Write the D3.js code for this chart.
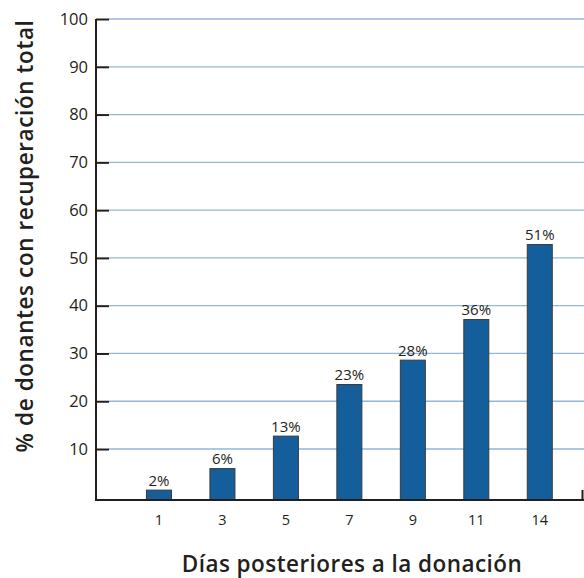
<!DOCTYPE html>
<html><head><meta charset="utf-8">
<script src="https://cdn.jsdelivr.net/npm/d3@7"></script>
<style>
html,body{margin:0;padding:0;background:#fff;}
svg{display:block;}
text{font-family:"Open Sans",sans-serif;fill:#231f20;}
</style></head>
<body>
<svg id="c" width="584" height="578"></svg>
<script>
const days = ["1","3","5","7","9","11","14"];
const barValues = [1.4, 5.9, 12.7, 23.5, 28.6, 37.1, 52.8];
const valueLabels = ["2%","6%","13%","23%","28%","36%","51%"];
const yTicks = [10,20,30,40,50,60,70,80,90,100];

const svg = d3.select("#c");
const axisX0 = 96, axisRight = 584, baseY = 500;

const y = d3.scaleLinear().domain([0,100]).range([496.8, 19]);
const x = d3.scaleBand().domain(days).range([axisX0, axisRight])
  .paddingInner(0.606).paddingOuter(0.6475).align(0.614);

// gridlines
svg.append("g").selectAll("line").data(yTicks).join("line")
  .attr("x1", 109).attr("x2", 584)
  .attr("y1", d => y(d)).attr("y2", d => y(d))
  .attr("stroke", "#92b6dd").attr("stroke-width", 1.3);

// bars
svg.append("g").selectAll("rect").data(barValues).join("rect")
  .attr("x", (d,i) => x(days[i]))
  .attr("width", x.bandwidth())
  .attr("y", d => y(d))
  .attr("height", d => baseY - y(d))
  .attr("fill", "#135e9b")
  .attr("stroke", "#3a3a3a").attr("stroke-width", 1);

// value labels
svg.append("g").selectAll("text").data(barValues).join("text")
  .attr("x", (d,i) => x(days[i]) + x.bandwidth()/2)
  .attr("y", d => y(d) - 4.5)
  .attr("text-anchor", "middle")
  .attr("font-size", 15)
  .text((d,i) => valueLabels[i]);

// y axis
const yAxis = d3.axisLeft(y).tickValues(yTicks).tickSize(13).tickPadding(8);
const gy = svg.append("g").attr("transform", `translate(${axisX0 + 13},0)`).call(yAxis);
gy.select(".domain").remove();
gy.selectAll(".tick line").attr("stroke", "#231f20").attr("stroke-width", 2);
gy.selectAll(".tick text").attr("font-size", 16.5).attr("font-family", "Open Sans, sans-serif").attr("fill", "#231f20");
svg.append("line").attr("x1", axisX0).attr("x2", axisX0).attr("y1", y(100)).attr("y2", baseY + 1)
  .attr("stroke", "#231f20").attr("stroke-width", 2);

// x axis
const xAxis = d3.axisBottom(x).tickSize(0).tickPadding(15);
const gx = svg.append("g").attr("transform", `translate(0,${baseY})`).call(xAxis);
gx.select(".domain").remove();
gx.selectAll(".tick text").attr("font-size", 14.5).attr("font-family", "Open Sans, sans-serif").attr("fill", "#231f20");
svg.append("line").attr("x1", axisX0 - 1).attr("x2", axisRight).attr("y1", baseY).attr("y2", baseY)
  .attr("stroke", "#231f20").attr("stroke-width", 2);
svg.append("line").attr("x1", 582.5).attr("x2", 582.5).attr("y1", baseY).attr("y2", baseY - 10)
  .attr("stroke", "#231f20").attr("stroke-width", 2);

// axis titles
svg.append("text").attr("x", 352).attr("y", 572).attr("text-anchor", "middle")
  .attr("font-size", 22.5).attr("font-weight", 600).attr("letter-spacing", 0.45)
  .text("Días posteriores a la donación");
svg.append("text").attr("transform", "translate(33,236) rotate(-90)").attr("text-anchor", "middle")
  .attr("font-size", 22.5).attr("font-weight", 600).attr("letter-spacing", 0.6)
  .text("% de donantes con recuperación total");
</script>
</body></html>
